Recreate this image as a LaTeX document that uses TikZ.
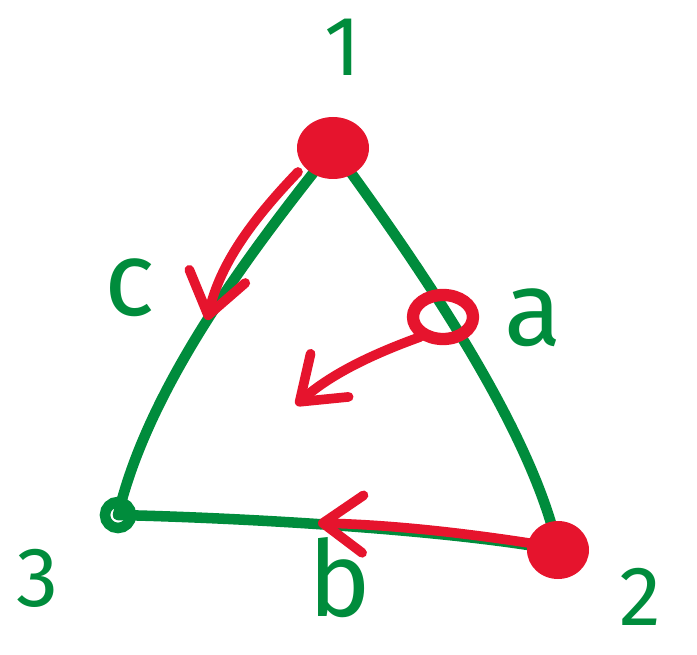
\documentclass[tikz,border=0pt]{standalone}
\usepackage{fontspec}
\setmainfont{Fira Sans}
\usetikzlibrary{arrows.meta}
\definecolor{pengreen}{RGB}{0,140,60}
\definecolor{penred}{RGB}{230,20,45}
\tikzset{
  edge/.style={pengreen, line width=6pt, line cap=round},
  flow/.style={penred, line width=5.5pt, line cap=round,
    -{Straight Barb[length=0.8cm, width=1.15cm, line width=5.5pt, round]}},
  lbl/.style={pengreen, font=\fontsize{48}{48}\selectfont},
  lett/.style={pengreen, font=\fontsize{60}{60}\selectfont}
}
\begin{document}
\begin{tikzpicture}[x=0.02cm, y=-0.02cm]
\useasboundingbox (0,0) rectangle (697,655);
% vertices
\coordinate (v1) at (333,148);
\coordinate (v2) at (558,550);
\coordinate (v3) at (118,515);
\coordinate (pa) at (443,317);
% triangle
\draw[edge] (v1) .. controls (260,240) and (150,380) .. (v3);
\draw[edge] (v1) .. controls (400,240) and (530,420) .. (v2);
\draw[edge] (v3) .. controls (250,518) and (450,530) .. (v2);
\draw[pengreen, line width=6pt] (v3) circle (13);
% red points
\fill[penred] (v1) ellipse (36 and 31);
\fill[penred] (v2) ellipse (31 and 29);
\draw[penred, line width=7pt] (pa) ellipse (30 and 22);
% arrows
\coordinate (t1) at (298,172);
\coordinate (h1) at (207,320);
\coordinate (t2) at (420,337);
\coordinate (h2) at (296,405);
\coordinate (t3) at (548,546);
\coordinate (h3) at (318,523);
\draw[flow] (t1) .. controls (250,222) and (220,265) .. (h1);
\draw[flow] (t2) .. controls (370,355) and (330,375) .. (h2);
\draw[flow] (t3) .. controls (480,535) and (400,525) .. (h3);
% labels
\node[lbl] (n1) at (343,47) {1};
\node[lbl] (n2) at (640,597) {2};
\node[lbl] (n3) at (38,578) {3};
\node[lett] (na) at (533,318) {a};
\node[lett] (nb) at (340,578) {b};
\node[lett] (nc) at (130,288) {c};
\end{tikzpicture}
\end{document}
